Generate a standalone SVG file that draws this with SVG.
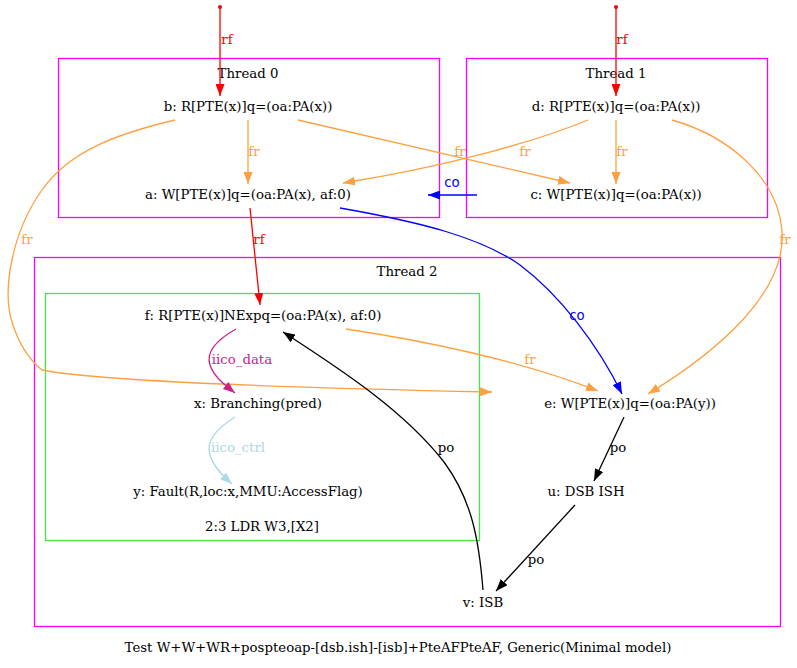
<svg xmlns="http://www.w3.org/2000/svg" width="797" height="668" viewBox="0 0 797 668">
<style>
text{font-family:"DejaVu Serif","Liberation Serif",serif;font-size:13.3px;text-anchor:middle}
.sans{font-family:"DejaVu Sans","Liberation Sans",sans-serif}
.cl{fill:none;stroke:#ff00ff;stroke-width:1.3}
.gr{fill:none;stroke:#40e840;stroke-width:1.3}
.e{fill:none;stroke-width:1.3}
.red{stroke:#ff0000}.org{stroke:#ffa040}.blu{stroke:#0000ff}.blk{stroke:#000}.vio{stroke:#cc2288}.lb{stroke:#add8e6}
</style>
<defs>
<marker id="ar" viewBox="0 0 12 9" refX="12" refY="4.5" markerWidth="12" markerHeight="9" markerUnits="userSpaceOnUse" orient="auto"><path d="M0,0L12,4.5L0,9z" fill="#ff0000"/></marker>
<marker id="ao" viewBox="0 0 12 9" refX="12" refY="4.5" markerWidth="12" markerHeight="9" markerUnits="userSpaceOnUse" orient="auto"><path d="M0,0L12,4.5L0,9z" fill="#ffa040"/></marker>
<marker id="ab" viewBox="0 0 12 9" refX="12" refY="4.5" markerWidth="12" markerHeight="9" markerUnits="userSpaceOnUse" orient="auto"><path d="M0,0L12,4.5L0,9z" fill="#0000ff"/></marker>
<marker id="ak" viewBox="0 0 12 9" refX="12" refY="4.5" markerWidth="12" markerHeight="9" markerUnits="userSpaceOnUse" orient="auto"><path d="M0,0L12,4.5L0,9z" fill="#000"/></marker>
<marker id="av" viewBox="0 0 12 9" refX="12" refY="4.5" markerWidth="12" markerHeight="9" markerUnits="userSpaceOnUse" orient="auto"><path d="M0,0L12,4.5L0,9z" fill="#cc2288"/></marker>
<marker id="al" viewBox="0 0 12 9" refX="12" refY="4.5" markerWidth="12" markerHeight="9" markerUnits="userSpaceOnUse" orient="auto"><path d="M0,0L12,4.5L0,9z" fill="#add8e6"/></marker>
</defs>
<rect width="797" height="668" fill="#fff"/>
<g id="clusters">
<rect class="cl" x="58.5" y="58.5" width="381" height="159"/>
<text x="248" y="78">Thread 0</text>
<rect class="cl" x="466.5" y="58.5" width="301" height="159"/>
<text x="616" y="78">Thread 1</text>
<rect class="cl" x="34.5" y="257.5" width="746" height="369"/>
<text x="407" y="276">Thread 2</text>
<rect class="gr" x="45.5" y="293.5" width="434" height="247"/>
<text x="262" y="531">2:3 LDR W3,[X2]</text>
</g>
<g id="connectors">
<circle cx="220" cy="7" r="2" fill="#ff0000"/>
<path class="e red" d="M220,7V96" marker-end="url(#ar)"/>
<text x="227" y="44" fill="#ff0000">rf</text>
<circle cx="616" cy="7" r="2" fill="#ff0000"/>
<path class="e red" d="M616,7V96" marker-end="url(#ar)"/>
<text x="622" y="44" fill="#ff0000">rf</text>
<path class="e org" d="M248,120V184" marker-end="url(#ao)"/>
<text x="254" y="156" fill="#ffa040">fr</text>
<path class="e org" d="M616,120V184" marker-end="url(#ao)"/>
<text x="622" y="156" fill="#ffa040">fr</text>
<path class="e org" d="M298,120L570,183" marker-end="url(#ao)"/>
<text x="460" y="156" fill="#ffa040">fr</text>
<path class="e org" d="M588,120C540,140 450,166 343,183" marker-end="url(#ao)"/>
<text x="525" y="156" fill="#ffa040">fr</text>
<path class="e blu" d="M477,195H428" marker-end="url(#ab)"/>
<text class="sans" x="452" y="187" fill="#0000ff">co</text>
<path class="e red" d="M250,208L260,305" marker-end="url(#ar)"/>
<text x="259" y="244" fill="#ff0000">rf</text>
<path class="e blu" d="M340,208C420,222 480,237 520,265C560,295 598,345 622,394" marker-end="url(#ab)"/>
<text class="sans" x="577" y="320" fill="#0000ff">co</text>
<path class="e org" d="M175,120C120,133 70,150 42,190C12,232 2,290 12,322C20,348 32,362 42,370C100,382 300,388 492,392" marker-end="url(#ao)"/>
<text x="27" y="244" fill="#ffa040">fr</text>
<path class="e org" d="M672,120C725,135 778,175 782,232C786,292 720,350 648,394" marker-end="url(#ao)"/>
<text x="785" y="244" fill="#ffa040">fr</text>
<path class="e org" d="M346,329C420,340 520,360 598,391" marker-end="url(#ao)"/>
<text x="530" y="364" fill="#ffa040">fr</text>
<path class="e vio" d="M236,329C220,338 205,350 210,365C214,377 225,385 235,393" marker-end="url(#av)"/>
<text x="242" y="364" fill="#cc2288">iico_data</text>
<path class="e lb" d="M235,417C219,427 205,440 210,455C213,466 222,475 232,484" marker-end="url(#al)"/>
<text x="238" y="452" fill="#add8e6">iico_ctrl</text>
<path class="e blk" d="M624,417L594,481" marker-end="url(#ak)"/>
<text x="618" y="452" fill="#000">po</text>
<path class="e blk" d="M575,505L496,591" marker-end="url(#ak)"/>
<text x="536" y="564" fill="#000">po</text>
<path class="e blk" d="M483,590C479,540 472,500 444,462C405,412 345,372 283,332" marker-end="url(#ak)"/>
<text x="446" y="452" fill="#000">po</text>
</g>
<g id="b"><text x="248" y="111">b: R[PTE(x)]q=(oa:PA(x))</text></g>
<g id="a"><text x="248" y="199">a: W[PTE(x)]q=(oa:PA(x), af:0)</text></g>
<g id="d"><text x="616" y="111">d: R[PTE(x)]q=(oa:PA(x))</text></g>
<g id="c"><text x="616" y="199">c: W[PTE(x)]q=(oa:PA(x))</text></g>
<g id="f"><text x="263" y="320">f: R[PTE(x)]NExpq=(oa:PA(x), af:0)</text></g>
<g id="x"><text x="258" y="408">x: Branching(pred)</text></g>
<g id="y"><text x="248" y="496">y: Fault(R,loc:x,MMU:AccessFlag)</text></g>
<g id="e"><text x="630" y="408">e: W[PTE(x)]q=(oa:PA(y))</text></g>
<g id="u"><text x="586" y="496">u: DSB ISH</text></g>
<g id="v"><text x="483" y="607">v: ISB</text></g>
<text x="398" y="652">Test W+W+WR+pospteoap-[dsb.ish]-[isb]+PteAFPteAF, Generic(Minimal model)</text>
</svg>
